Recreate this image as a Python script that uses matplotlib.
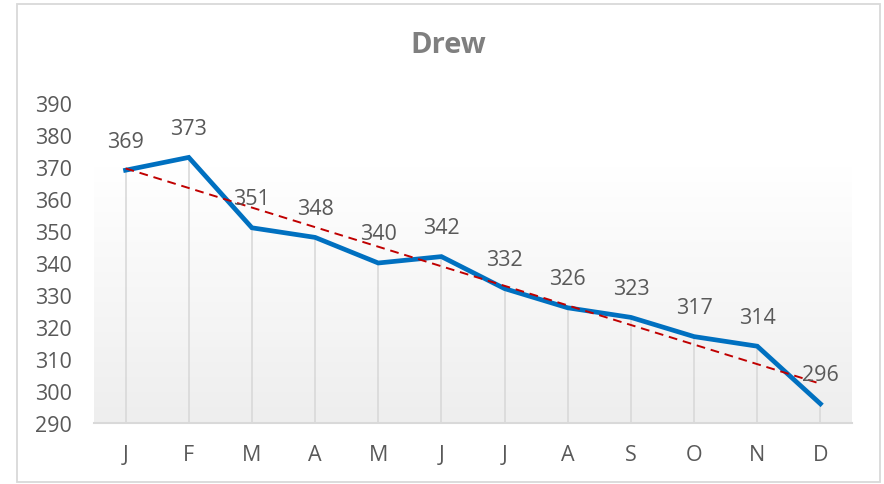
"""plot.py

Monthly line chart for Drew with drop lines and a linear trendline.
"""

import matplotlib

matplotlib.use("Agg")
# flake8: noqa: E402
import matplotlib.pyplot as plt
import numpy as np
from matplotlib.colors import LinearSegmentedColormap
from matplotlib.patches import Rectangle

# Chart data
months = ["J", "F", "M", "A", "M", "J", "J", "A", "S", "O", "N", "D"]
values = [369, 373, 351, 348, 340, 342, 332, 326, 323, 317, 314, 296]
y_ticks = [290, 300, 310, 320, 330, 340, 350, 360, 370, 380, 390]

TEXT_GRAY = "#595959"
LINE_GRAY = "#d9d9d9"

plt.rcParams["font.family"] = ["Open Sans", "DejaVu Sans"]

fig = plt.figure(figsize=(8.84, 4.85), dpi=100)
ax = fig.add_axes((94 / 884, 1 - 424 / 485, 758 / 884, 320 / 485))

x = np.arange(len(months))
ax.set_xlim(-0.5, len(months) - 0.5)
ax.set_ylim(y_ticks[0], y_ticks[-1])

# Plot area gradient: light gray at the bottom fading to white near the top
t = np.linspace(0, 1, 256)
shade = np.clip((0.8 - t) / 0.8, 0, 1)
cmap = LinearSegmentedColormap.from_list("bg", ["#ffffff", "#eeeeee"])
ax.imshow(
    shade[:, None],
    aspect="auto",
    cmap=cmap,
    extent=(-0.5, len(months) - 0.5, y_ticks[0], y_ticks[-1]),
    origin="lower",
    zorder=0,
)

# Drop lines
ax.vlines(x, y_ticks[0], values, color=LINE_GRAY, linewidth=1.2, zorder=1)

# Main series
ax.plot(x, values, color="#0070c0", linewidth=3.4, solid_joinstyle="miter", zorder=3)

# Linear trendline
slope, intercept = np.polyfit(x, values, 1)
ax.plot(
    x,
    slope * x + intercept,
    color="#c00000",
    linewidth=1.4,
    linestyle=(0, (4.5, 3)),
    zorder=4,
)

# Data labels above points
for xi, v in zip(x, values):
    ax.annotate(
        str(v),
        (xi, v),
        xytext=(0, 17),
        textcoords="offset points",
        ha="center",
        va="baseline",
        fontsize=15.5,
        color=TEXT_GRAY,
        zorder=5,
    )

ax.set_xticks(x, months)
ax.set_yticks(y_ticks)
ax.tick_params(axis="both", length=0, labelsize=15.5, labelcolor=TEXT_GRAY)
ax.tick_params(axis="y", pad=16)
ax.tick_params(axis="x", pad=15)

for side in ["top", "left", "right"]:
    ax.spines[side].set_visible(False)
ax.spines["bottom"].set_color(LINE_GRAY)
ax.spines["bottom"].set_linewidth(1.5)
ax.spines["bottom"].set_zorder(2)

fig.text(
    448 / 884,
    1 - 53 / 485,
    "Drew",
    ha="center",
    va="baseline",
    fontsize=21,
    fontweight="bold",
    color="#7f7f7f",
)

# Chart border
fig.patches.append(
    Rectangle(
        (17 / 884, 1 - 483 / 485),
        863 / 884,
        478 / 485,
        transform=fig.transFigure,
        fill=False,
        edgecolor=LINE_GRAY,
        linewidth=1.3,
    )
)

fig.savefig("out.png", dpi=100)
